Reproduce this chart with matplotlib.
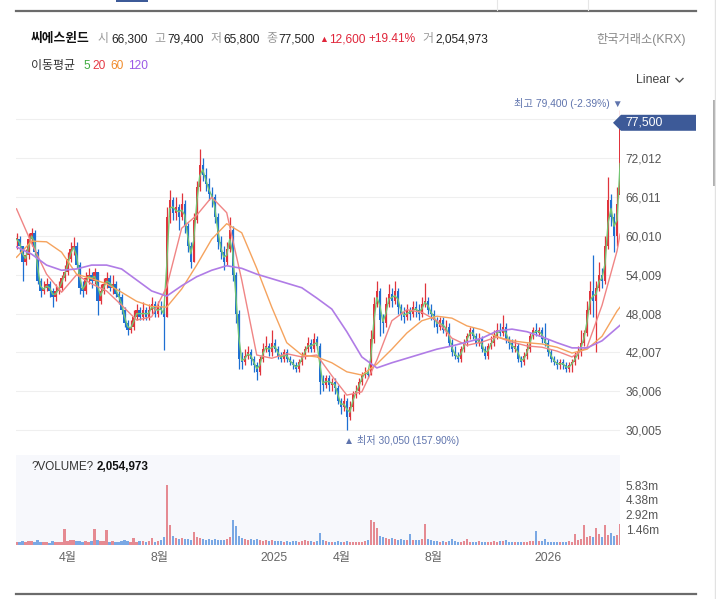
import numpy as np
import pandas as pd
import matplotlib
matplotlib.use('Agg')
import matplotlib.pyplot as plt
import matplotlib.dates as mdates
from matplotlib.patches import Polygon, Rectangle
from matplotlib.lines import Line2D
from matplotlib.transforms import IdentityTransform

plt.rcParams['font.family'] = ['Liberation Sans', 'Noto Sans CJK KR', 'DejaVu Sans']

# ---------------- data ----------------
NAME = '씨에스윈드'
EXCHANGE = '한국거래소(KRX)'
START = '2024-01-24'
STEP = '4D'

CLOSE_K = [
    59.5, 58.5, 56.0, 57.0, 59.5, 60.5, 57.5, 53.0, 51.5, 52.0, 52.5, 51.5, 50.5, 51.5, 52.0,
    53.5, 54.5, 56.5, 58.0, 58.5, 55.5, 52.0, 51.5, 53.5, 54.0, 53.0, 54.5, 50.0, 51.5, 52.5,
    53.5, 52.0, 52.5, 51.0, 50.5, 48.5, 46.5, 45.5, 46.0, 47.5, 48.5, 47.5, 48.5, 47.5, 48.5,
    49.5, 48.0, 49.0, 48.5, 47.5, 63.0, 65.5, 63.5, 64.5, 63.0, 65.0, 61.5, 58.5, 56.0, 62.5,
    67.5, 71.0, 69.5, 68.0, 66.5, 66.0, 63.0, 59.0, 57.5, 56.0, 58.0, 61.0, 54.0, 48.0, 41.0,
    40.5, 41.5, 42.0, 41.0, 40.0, 39.0, 41.0, 42.5, 43.0, 42.0, 43.5, 42.5, 41.5, 41.0, 42.0,
    41.0, 40.5, 40.0, 39.5, 40.5, 41.5, 42.5, 43.5, 42.5, 44.0, 43.0, 37.5, 37.0, 38.0, 37.0,
    37.5, 36.5, 34.5, 33.5, 34.5, 32.0, 33.5, 35.5, 36.0, 37.5, 38.5, 39.0, 38.5, 44.0, 49.5,
    51.5, 47.0, 46.5, 49.5, 51.0, 50.0, 51.5, 49.0, 48.0, 47.5, 48.5, 48.0, 49.0, 48.5, 48.0,
    49.5, 50.0, 48.5, 48.0, 47.0, 46.0, 47.0, 45.5, 46.0, 43.5, 42.0, 41.5, 41.0, 42.5, 43.5,
    44.5, 45.5, 44.5, 43.5, 44.0, 42.5, 41.5, 43.0, 43.5, 44.5, 45.5, 45.0, 46.0, 44.0, 43.5,
    42.5, 43.0, 41.0, 40.5, 41.5, 42.5, 44.5, 45.5, 45.0, 45.5, 44.0, 43.5, 42.0, 41.0, 40.5,
    40.0, 40.5, 40.0, 39.5, 40.0, 40.5, 41.5, 42.0, 43.5, 45.0, 48.5, 51.5, 50.0, 52.0, 54.0,
    53.0, 58.5, 65.5, 63.0, 60.0, 64.9, 77.5,
]
LAST_OPEN = 66300

HIGH_K = [
    60.5, 60.0, 58.5, 58.0, 60.5, 61.2, 61.0, 58.0, 53.5, 53.0, 53.5, 53.0, 52.0, 52.5, 53.0,
    54.0, 55.5, 57.5, 59.0, 59.8, 59.0, 56.0, 53.0, 54.5, 55.0, 54.5, 55.0, 54.5, 52.5, 53.5,
    54.5, 54.0, 54.0, 53.0, 52.0, 51.0, 49.0, 47.0, 47.0, 48.5, 49.5, 49.0, 49.8, 49.0, 49.5,
    50.5, 50.0, 50.0, 50.0, 49.5, 64.5, 67.1, 66.0, 66.0, 65.0, 66.6, 65.5, 62.0, 59.0, 63.5,
    68.5, 73.5, 72.0, 70.5, 69.0, 67.5, 66.5, 63.5, 60.0, 58.5, 59.0, 63.0, 61.5, 54.5, 48.5,
    42.0, 42.5, 43.0, 42.5, 41.5, 40.5, 41.5, 43.5, 44.5, 43.5, 45.5, 44.0, 43.0, 42.0, 42.5,
    42.5, 41.5, 41.0, 40.5, 41.0, 42.0, 43.0, 44.4, 44.0, 45.0, 44.5, 43.5, 38.5, 38.5, 38.5,
    38.0, 38.0, 37.0, 35.0, 35.5, 35.0, 34.5, 36.0, 37.0, 38.0, 39.0, 39.7, 39.5, 45.5, 50.5,
    53.0, 52.0, 48.0, 50.5, 52.5, 52.0, 53.0, 52.0, 49.5, 49.0, 49.5, 49.0, 50.0, 50.0, 49.5,
    50.5, 52.8, 50.5, 49.5, 48.5, 47.5, 47.5, 47.5, 47.0, 46.5, 44.0, 43.0, 42.0, 43.0, 44.0,
    45.0, 46.0, 46.0, 45.0, 45.0, 44.5, 43.0, 43.5, 44.5, 45.5, 46.5, 46.5, 47.8, 46.5, 44.5,
    44.0, 44.0, 43.5, 41.5, 42.0, 43.5, 45.0, 46.0, 46.5, 46.0, 46.0, 46.5, 44.0, 42.5, 41.5,
    41.0, 41.0, 41.0, 40.5, 40.5, 41.0, 42.0, 43.0, 45.5, 45.5, 50.0, 53.0, 57.0, 53.0, 56.0,
    55.0, 60.0, 69.1, 66.5, 63.5, 67.5, 79.4,
]
LOW_K = [
    58.0, 57.5, 53.0, 55.5, 56.5, 58.5, 57.0, 52.5, 50.5, 51.0, 51.5, 50.5, 49.0, 50.0, 51.0,
    51.5, 53.0, 54.0, 56.0, 57.0, 55.0, 51.0, 50.5, 51.0, 52.5, 52.0, 52.5, 47.8, 49.5, 51.0,
    52.0, 51.5, 51.0, 50.5, 49.5, 48.0, 46.0, 44.7, 45.0, 45.5, 47.0, 47.0, 47.0, 47.0, 47.0,
    48.0, 47.5, 47.5, 48.0, 42.4, 47.5, 62.0, 62.5, 62.5, 61.0, 62.5, 60.5, 57.5, 55.0, 56.0,
    62.0, 67.0, 68.5, 67.0, 65.5, 64.5, 62.0, 58.0, 56.5, 54.8, 55.5, 57.5, 53.0, 46.5, 39.5,
    39.5, 40.0, 41.0, 40.0, 39.0, 37.7, 38.5, 40.5, 42.0, 41.5, 41.5, 42.0, 41.0, 40.5, 40.5,
    40.5, 40.0, 39.5, 39.0, 39.0, 40.0, 41.0, 42.0, 42.0, 42.0, 42.5, 35.5, 36.0, 36.5, 36.0,
    36.0, 35.5, 34.0, 32.5, 33.0, 30.05, 31.5, 33.0, 35.0, 35.5, 37.0, 38.0, 38.0, 38.5, 43.5,
    49.0, 44.5, 45.0, 46.0, 49.0, 49.0, 49.5, 48.0, 47.0, 46.5, 47.0, 47.0, 47.5, 47.5, 47.0,
    47.5, 49.0, 48.0, 47.0, 46.0, 45.0, 45.5, 45.0, 44.5, 43.0, 41.5, 41.0, 40.5, 40.5, 42.0,
    43.0, 44.0, 44.0, 43.0, 43.0, 42.0, 41.0, 41.0, 42.5, 43.0, 44.0, 44.5, 44.5, 43.5, 42.5,
    42.0, 42.0, 40.5, 39.7, 40.0, 41.0, 42.0, 44.0, 44.5, 44.5, 43.5, 43.0, 41.5, 40.5, 40.0,
    39.5, 39.5, 39.5, 39.0, 39.0, 39.0, 40.0, 41.0, 41.5, 43.0, 44.5, 48.0, 47.5, 42.0, 51.5,
    52.0, 52.5, 58.0, 61.5, 57.5, 58.5, 65.8,
]

VOL_M = [
    .3, .25, .4, .3, .35, .4, .3, .45, .3, .25, .3, .2, .35, .25, .3,
    .3, 1.6, .4, .5, .45, .35, .4, .3, .35, .3, .4, 1.6, .5, .35, .4,
    1.5, .3, .35, .25, .3, .4, .5, .35, .3, .7, .3, .35, .4, .3, .35,
    .65, .3, .4, .45, .8, 5.83, 1.95, .9, .7, .6, .7, .55, .6, .5, 1.3,
    .8, .7, .6, .5, .55, .5, .6, .5, .45, .5, .6, .8, 2.4, 1.8, .9,
    .7, .6, .5, .55, .5, .6, .45, .4, .5, .35, .45, .4, .35, .4, .3,
    .35, .3, .4, .35, .3, .4, .45, .35, .4, .3, .4, 1.2, .5, .35, .3,
    .25, .3, .35, .3, .25, .4, .3, .25, .3, .25, .3, .35, .5, 2.4, 2.2,
    1.7, .9, .8, .7, .6, .7, .55, .5, .6, .45, .5, 1.05, .5, .45, .5,
    .6, 2.0, .6, .45, .4, .35, .3, .35, .3, .4, .55, .35, .3, .3, .35,
    .55, .3, .25, .3, .35, .25, .3, .25, .3, .35, .3, .4, .35, .5, .3,
    .25, .3, .3, .25, .3, .25, .35, .4, 1.4, .4, .35, .55, .3, .25, .3,
    .25, .3, .25, .3, .35, .3, 1.05, .5, .6, 1.9, .8, .9, .8, 1.7, 1.05,
    .8, 1.9, 1.0, 1.2, .9, 1.0, 2.054973,
]

# moving averages read at every 5th candle (and the last one)
MA_IDX = list(range(0, 201, 5)) + [201]
MA20_K = [64.2, 58.9, 54.1, 51.3, 54.0, 52.6, 51.5, 49.3, 47.0, 47.5, 52.1, 61.2, 63.2, 66.0,
          63.6, 53.2, 41.6, 41.1, 41.8, 41.3, 41.6, 38.4, 35.4, 35.9, 40.8, 46.9, 48.6, 48.2,
          46.9, 44.2, 43.1, 43.6, 44.4, 43.6, 43.0, 42.8, 42.2, 41.3, 42.8, 49.3, 57.7, 60.3]
MA60_K = [56.7, 59.2, 59.1, 57.5, 54.1, 53.4, 52.6, 51.3, 49.9, 49.1, 49.0, 51.8, 55.5, 59.5,
          61.9, 60.5, 55.0, 49.0, 43.5, 41.6, 41.3, 40.4, 39.0, 38.5, 40.2, 42.5, 45.0, 46.9,
          47.6, 47.3, 46.1, 45.5, 44.4, 43.8, 43.5, 43.3, 42.8, 41.9, 42.5, 44.5, 48.4, 49.0]
MA120_K = [58.3, 57.2, 55.5, 54.7, 54.9, 55.5, 55.5, 54.9, 53.2, 51.5, 50.7, 52.3, 53.7, 54.7,
           55.4, 55.0, 54.1, 53.4, 52.7, 52.0, 50.4, 48.7, 45.2, 41.3, 39.6, 40.4, 41.1, 41.8,
           42.5, 43.0, 43.6, 44.2, 45.3, 45.6, 45.2, 44.4, 43.5, 42.7, 42.7, 43.8, 45.8, 46.2]

YTICKS = [30005, 36006, 42007, 48008, 54009, 60010, 66011, 72012, 78013]
VOL_TICKS_M = [1.46, 2.92, 4.38, 5.83]
XTICK_DATES = ['2024-04-01', '2024-08-01', '2025-01-01', '2025-04-01', '2025-08-01', '2026-01-01']
XTICK_LABELS = ['4월', '8월', '2025', '4월', '8월', '2026']
MA_LABELS = ['5', '20', '60', '120']

# ---------------- styling ----------------
W, H = 716, 599
UP, DOWN = '#e0343c', '#1d6fd2'
VUP, VDOWN = '#e58a92', '#7aa8e4'
C_MA5, C_MA20, C_MA60, C_MA120 = '#74c774', '#f08585', '#f5a35e', '#b07ce6'
LBL_MA = ['#3faa3f', '#e53945', '#f08a2a', '#9b59e6']
NAVY = '#3d5a98'
SLATE = '#5f74ad'


def fx(x):
    return x / W


def fy(y):
    return 1 - y / H


fig = plt.figure(figsize=(W / 100, H / 100), dpi=100)
fig.patch.set_facecolor('white')

base = mdates.date2num(pd.Timestamp('2025-01-01'))
PX_PER_DAY = 0.7507
XL = base + (16 - 274) / PX_PER_DAY
XR = base + (620 - 274) / PX_PER_DAY

ax = fig.add_axes([fx(16), fy(448), (620 - 16) / W, (448 - 95) / H])
axv = fig.add_axes([fx(16), fy(545), (620 - 16) / W, (545 - 455) / H])

dates = pd.date_range(START, periods=len(CLOSE_K), freq=STEP)
xd = mdates.date2num(dates.to_pydatetime())
close = np.array(CLOSE_K) * 1000.0
opn = np.r_[close[0], close[:-1]]
opn[-1] = LAST_OPEN
high = np.array(HIGH_K) * 1000.0
low = np.array(LOW_K) * 1000.0
up = close >= opn
cols = np.where(up, UP, DOWN)

# candles
ax.vlines(xd, low, high, colors=cols, lw=0.9, zorder=2)
body_h = np.maximum(np.abs(close - opn), 150)
ax.bar(xd, body_h, bottom=np.minimum(opn, close), width=3.0, color=cols, lw=0, zorder=2)

# moving averages
ma5 = pd.Series(close).rolling(2, min_periods=1).mean().values
ax.plot(xd, ma5, color=C_MA5, lw=1.0, zorder=3)
mx = xd[MA_IDX]
ax.plot(mx, np.array(MA20_K) * 1000, color=C_MA20, lw=1.0, zorder=3)
ax.plot(mx, np.array(MA60_K) * 1000, color=C_MA60, lw=1.0, zorder=3)
ax.plot(mx, np.array(MA120_K) * 1000, color=C_MA120, lw=1.2, zorder=3)

y_bot = 30005 + (430 - 448) * 154.6
y_top = 30005 + (430 - 95) * 154.6
ax.set_xlim(XL, XR)
ax.set_ylim(y_bot, y_top)
for s in ax.spines.values():
    s.set_visible(False)
ax.set_yticks(YTICKS)
ax.set_yticklabels([f'{v:,}' for v in YTICKS[:-1]] + [''])
ax.yaxis.tick_right()
ax.tick_params(axis='y', length=0, pad=4, labelsize=8.6, labelcolor='#555555')
ax.set_xticks([])
ax.grid(axis='y', color='#efefef', lw=0.8, zorder=0)
ax.set_axisbelow(True)

# hi / lo annotations
imax = int(np.argmax(high))
imin = int(np.argmin(low))
last = close[-1]
hi_pct = (last - high[imax]) / high[imax] * 100
lo_pct = (last - low[imin]) / low[imin] * 100
ax.annotate(f'최고 {high[imax]:,.0f} ({hi_pct:.2f}%) ▼', xy=(xd[imax], high[imax]),
            xytext=(3, 7), textcoords='offset pixels', ha='right', va='center',
            fontsize=7.4, color=SLATE, annotation_clip=False)
ax.annotate(f'▲ 최저 {low[imin]:,.0f} ({lo_pct:.2f}%)', xy=(xd[imin], low[imin]),
            xytext=(-3, -11), textcoords='offset pixels', ha='left', va='center',
            fontsize=7.3, color=SLATE, annotation_clip=False)

# volume
vol = np.array(VOL_M) * 1e6
axv.set_facecolor('#f7f8fc')
axv.bar(xd, vol, width=3.0, color=np.where(up, VUP, VDOWN), lw=0)
axv.set_xlim(XL, XR)
axv.set_ylim(0, 8.75e6)
for s in axv.spines.values():
    s.set_visible(False)
axv.yaxis.tick_right()
axv.set_yticks([v * 1e6 for v in VOL_TICKS_M])
axv.set_yticklabels([f'{v:.2f}m' for v in VOL_TICKS_M])
axv.tick_params(axis='y', length=0, pad=4, labelsize=8.6, labelcolor='#555555')
axv.set_xticks(mdates.date2num([pd.Timestamp(d) for d in XTICK_DATES]))
axv.set_xticklabels(XTICK_LABELS)
axv.tick_params(axis='x', length=0, pad=5, labelsize=8.8, labelcolor='#666666')
axv.text((32 - 16) / (620 - 16), 1 - (467 - 455) / 90, '?VOLUME?', transform=axv.transAxes,
         ha='left', va='center', fontsize=8.4, color='#333333')
axv.text((97 - 16) / (620 - 16), 1 - (467 - 455) / 90, f'{vol[-1]:,.0f}', transform=axv.transAxes,
         ha='left', va='center', fontsize=8.4, color='#111111', fontweight='bold')

# last-price tag
fig.canvas.draw()
yd = ax.transData.transform((XR, last))[1]
tag = Polygon([(613, yd), (621, yd + 8), (696, yd + 8), (696, yd - 8), (621, yd - 8)],
              closed=True, transform=IdentityTransform(), facecolor=NAVY, edgecolor='none')
fig.add_artist(tag)
fig.text(fx(625), yd / H, f'{last:,.0f}', ha='left', va='center', fontsize=8.8, color='white')

# header
Y1 = fy(39)
fig.text(fx(31), Y1, NAME, ha='left', va='center', fontsize=9.2, fontweight='bold', color='#111111')
prev = close[-2]
chg = last - prev
pct = chg / prev * 100
pieces = [
    (98, '시', '#999999'), (111, f'{LAST_OPEN:,}', '#222222'),
    (154, '고', '#999999'), (167, f'{high[-1]:,.0f}', '#222222'),
    (211, '저', '#999999'), (223, f'{low[-1]:,.0f}', '#222222'),
    (266, '종', '#999999'), (278, f'{last:,.0f}', '#222222'),
    (319, '▲', '#e0253a'), (329, f'{chg:,.0f}', '#e0253a'),
    (368, f'+{pct:.2f}%', '#e0253a'),
    (422, '거', '#999999'), (435, f'{vol[-1]:,.0f}', '#222222'),
]
for x, t, c in pieces:
    fs = 6.5 if t == '▲' else 8.6
    fig.text(fx(x), Y1, t, ha='left', va='center', fontsize=fs, color=c)
fig.text(fx(686), Y1, EXCHANGE, ha='right', va='center', fontsize=8.8, color='#888888')

Y2 = fy(66)
fig.text(fx(31), Y2, '이동평균', ha='left', va='center', fontsize=8.6, color='#333333')
for x, t, c in zip([83, 92, 110, 128], MA_LABELS, LBL_MA):
    fig.text(fx(x), Y2, t, ha='left', va='center', fontsize=8.6, color=c)

fig.text(fx(636), fy(80), 'Linear', ha='left', va='center', fontsize=8.8, color='#444444')
fig.add_artist(Line2D([676, 679.5, 683], [H - 78.5, H - 82, H - 78.5],
                      transform=IdentityTransform(), color='#555555', lw=1.0))

# frame decorations
fig.add_artist(Line2D([16, 696], [H - 11, H - 11], transform=IdentityTransform(), color='#6b6b6b', lw=1.6))
fig.add_artist(Line2D([16, 696], [H - 594, H - 594], transform=IdentityTransform(), color='#6b6b6b', lw=1.6))
fig.add_artist(Rectangle((116, H - 2), 32, 2, transform=IdentityTransform(), facecolor=NAVY, edgecolor='none'))
for xv in (497, 588):
    fig.add_artist(Line2D([xv, xv], [H - 10, H], transform=IdentityTransform(), color='#e6e6e6', lw=0.8))
fig.add_artist(Line2D([715, 715], [0, H], transform=IdentityTransform(), color='#e2e2e2', lw=1.0))
fig.add_artist(Rectangle((713, H - 186), 3, 86, transform=IdentityTransform(), facecolor='#b0b0b0', edgecolor='none'))

fig.savefig('out.png', dpi=100)
